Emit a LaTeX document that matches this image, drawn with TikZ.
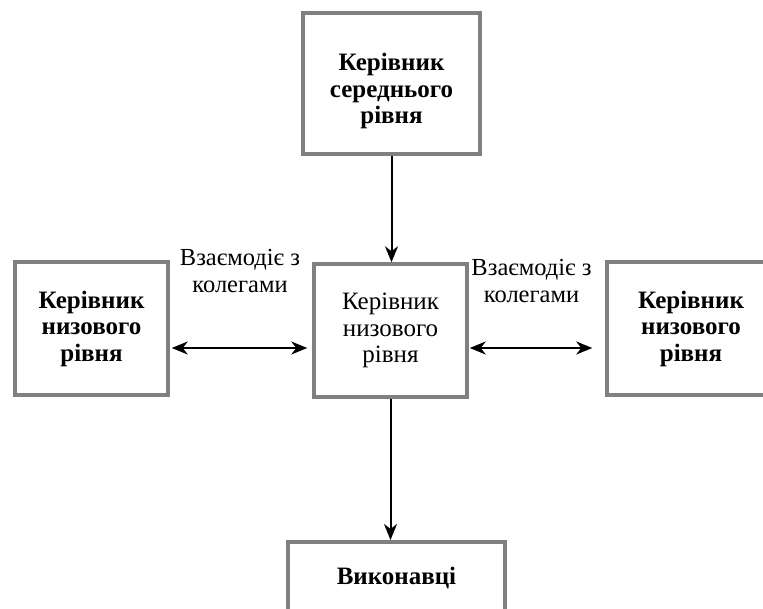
\documentclass[tikz,border=0pt]{standalone}
\usepackage{fontspec}
\setmainfont{Liberation Serif}
\usetikzlibrary{arrows.meta}
\begin{document}
\begin{tikzpicture}[x=1pt,y=-1pt,
  box/.style={draw=black!50, line width=3.5pt, fill=white, inner sep=0pt,
    align=center, font=\fontsize{25}{26.5}\selectfont},
  boldbox/.style={box, font=\fontsize{25}{26.5}\selectfont\bfseries},
  boldtext/.style={align=center, inner sep=0pt, font=\fontsize{25}{26.5}\selectfont\bfseries},
  note/.style={align=center, font=\fontsize{24.5}{27}\selectfont, inner sep=0pt},
  tip/.style={Stealth[length=16pt,width=13pt,inset=5pt]},
  link/.style={line width=2pt, -{Stealth[length=16pt,width=13pt,inset=5pt]}},
  biglink/.style={line width=2pt, {Stealth[length=16pt,width=13pt,inset=5pt]}-{Stealth[length=16pt,width=13pt,inset=5pt]}}]
  \useasboundingbox (0,0) rectangle (763,608);

  % managers
  \node[box, minimum width=177pt, minimum height=141pt] (top) at (391.5,83.5) {};
  \node[boldtext] (topText) at (391.5,91) {Керівник\\середнього\\рівня};
  \node[box, minimum width=153pt, minimum height=133pt] (mid) at (390.5,330.5)
    {Керівник\\низового\\рівня};
  \node[boldbox, minimum width=153pt, minimum height=133pt] (left) at (91.5,328.5)
    {Керівник\\низового\\рівня};
  \node[boldbox, minimum width=168pt, minimum height=133pt] (right) at (691,328.5)
    {Керівник\\низового\\рівня};

  % executors (box runs past the lower edge)
  \node[boldbox, anchor=north, minimum width=217pt, text height=43pt, text depth=60pt] (exec) at (396.5,540)
    {Виконавці};

  % peer labels
  \node[note] (peerL) at (240,271.5) {Взаємодіє з\\колегами};
  \node[note] (peerR) at (531.5,281.5) {Взаємодіє з\\колегами};

  % connectors
  \coordinate (hl) at (0,348);
  \draw[link] (top.south) -- (top.south |- mid.north);
  \draw[link] (mid.south) -- (mid.south |- exec.north);
  \draw[biglink, shorten <=2pt, shorten >=5pt] (left.east |- hl) -- (mid.west |- hl);
  \draw[biglink, shorten <=1pt, shorten >=13pt] (mid.east |- hl) -- (right.west |- hl);
\end{tikzpicture}
\end{document}
